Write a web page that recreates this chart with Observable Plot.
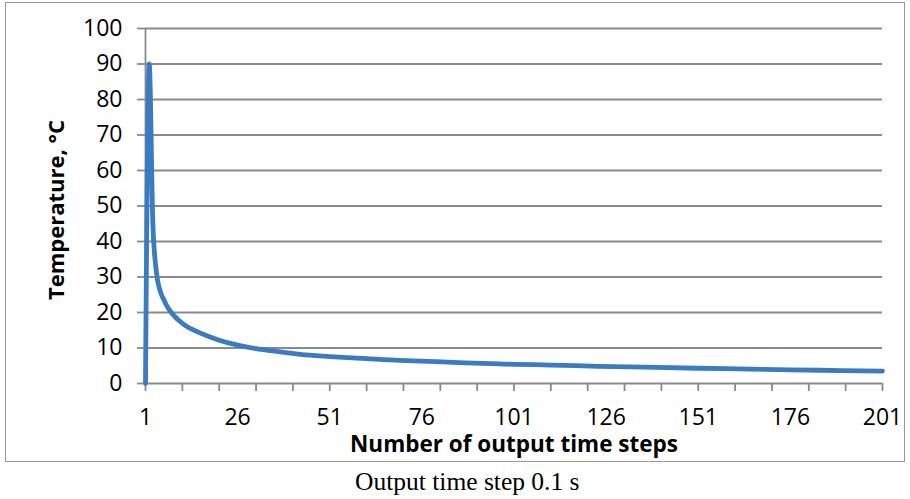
<!DOCTYPE html>
<html>
<head>
<meta charset="utf-8">
<script src="https://cdn.jsdelivr.net/npm/d3@7"></script>
<script src="https://cdn.jsdelivr.net/npm/@observablehq/plot@0.6"></script>
<style>
  html, body { margin: 0; padding: 0; background: #fff; width: 910px; height: 499px; overflow: hidden; }
  #chart { position: absolute; left: 5px; top: 2px; width: 898px; height: 458px; border: 1.5px solid #9a9a9a; }
  #chart svg { display: block; }
  #caption { position: absolute; left: 355px; top: 469px; font-family: "Liberation Serif", "Times New Roman", serif; font-size: 25.5px; line-height: 26px; white-space: nowrap; color: #000; }
</style>
</head>
<body>
<div id="chart"></div>
<div id="caption">Output time step 0.1 s</div>
<script>
// Data
const steps = [1, 2, 3, 4, 5, 6, 7, 8, 9, 10, 12, 15, 18, 21, 26, 31, 36, 43, 51, 61, 70, 76, 86, 97, 101, 111, 124, 136, 151, 165, 176, 190, 201];
const temps = [0, 90, 45, 31, 26, 23.5, 21.5, 20, 18.8, 17.8, 16.2, 14.6, 13.3, 12.2, 10.8, 9.8, 9.1, 8.2, 7.6, 7.0, 6.5, 6.3, 5.9, 5.5, 5.4, 5.2, 4.85, 4.6, 4.3, 4.05, 3.85, 3.65, 3.5];
const xLabelTicks = [1, 26, 51, 76, 101, 126, 151, 176, 201];
const xMarkTicks = [1, 11, 21, 31, 41, 51, 61, 71, 81, 91, 101, 111, 121, 131, 141, 151, 161, 171, 181, 191, 201];
const yTicks = [0, 10, 20, 30, 40, 50, 60, 70, 80, 90, 100];
const xTitle = "Number of output time steps";
const yTitle = "Temperature, °C";

const data = steps.map((s, i) => ({step: s, temp: temps[i]}));
const grid = "#8a8a8a";

const chart = Plot.plot({
  width: 898,
  height: 458,
  marginLeft: 139,
  marginRight: 22,
  marginTop: 25,
  marginBottom: 78,
  style: {fontFamily: "'Open Sans', sans-serif", fontSize: "23px", color: "#000", background: "#fff", overflow: "visible"},
  x: {domain: [1, 201]},
  y: {domain: [0, 100]},
  marks: [
    Plot.ruleY(yTicks, {stroke: grid, strokeWidth: 1.8}),
    Plot.ruleX([1], {stroke: grid, strokeWidth: 1.8}),
    Plot.axisY({ticks: yTicks, tickSize: 8, text: null, stroke: grid, strokeWidth: 1.8, label: null}),
    Plot.axisY({ticks: yTicks, tickSize: 0, tickPadding: 23, label: null, fill: "#000"}),
    Plot.axisX({ticks: xMarkTicks, tickSize: 8, text: null, stroke: grid, strokeWidth: 1.8, label: null}),
    Plot.axisX({ticks: xLabelTicks, tickSize: 0, tickPadding: 25, label: null, fill: "#000"}),
    Plot.line(data, {x: "step", y: "temp", stroke: "#3b7bc2", strokeWidth: 4.8, curve: "monotone-x", strokeLinecap: "round", strokeLinejoin: "round"}),
    Plot.text([xTitle], {frameAnchor: "bottom", textAnchor: "middle", dy: 68, fontWeight: "bold", fontSize: 22.5, fill: "#000"}),
    Plot.text([yTitle], {frameAnchor: "left", textAnchor: "middle", dx: -89, dy: 4, rotate: -90, fontWeight: "bold", fontSize: 22, fill: "#000"})
  ]
});
document.getElementById("chart").appendChild(chart);
</script>
</body>
</html>
